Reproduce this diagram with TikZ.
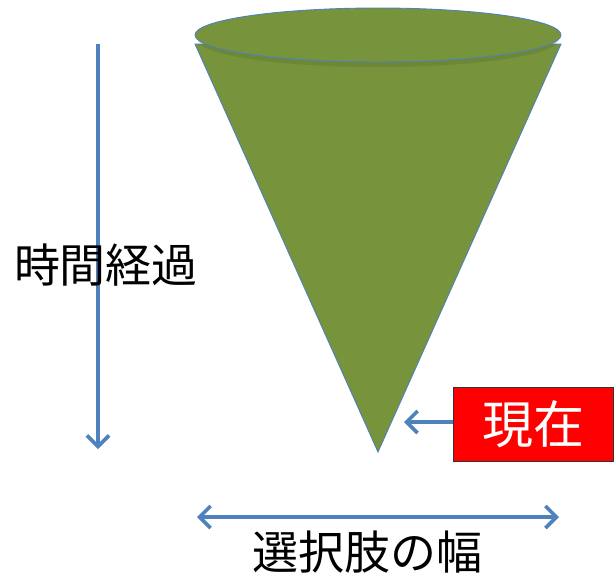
\documentclass[tikz,border=0pt]{standalone}
\usepackage{fontspec}
\setmainfont{Noto Sans CJK JP}
\usepackage{tikz}
\usetikzlibrary{positioning,arrows.meta,calc}
\definecolor{conegreen}{HTML}{77933C}
\definecolor{lineblue}{HTML}{4F81BD}
\definecolor{nowred}{HTML}{FF0000}
\tikzset{
x=1pt,y=-1pt,
conefill/.style={fill=conegreen,draw=lineblue,line width=0.9pt},
bluearrow/.style={draw=lineblue,line width=3.6pt,-{Straight Barb[length=11pt,width=22pt,line width=3.6pt]}},
bluearrows/.style={draw=lineblue,line width=3.6pt,{Straight Barb[length=11pt,width=22pt,line width=3.6pt]}-{Straight Barb[length=11pt,width=22pt,line width=3.6pt]}},
lbl/.style={font=\fontsize{46}{50}\selectfont,inner sep=0pt},
nowbox/.style={rectangle,fill=nowred,draw=black!80,line width=0.9pt,text=white,
  font=\fontsize{51}{54}\selectfont,minimum width=160pt,minimum height=74pt,inner sep=0pt},
}
\begin{document}
\begin{tikzpicture}
	\useasboundingbox (0,0) rectangle (614,574);

	% cone
	\coordinate (rimL) at (195,44);
	\coordinate (rimR) at (561,44);
	\coordinate (apex) at (378,452);
	\path[conefill] (rimL) -- (rimR) -- (apex) -- cycle;
	\fill[black,opacity=0.08] (378,40) ellipse [x radius=180pt,y radius=27pt];
	\path[conefill] (378,35) ellipse [x radius=183pt,y radius=27pt];

	% time axis
	\coordinate (tstart) at (98,44);
	\coordinate (tend) at (98,449);
	\draw[bluearrow] (tstart) -- (tend);
	\node[lbl] (time) at (106,265) {時間経過};

	% present
	\node[nowbox,anchor=north west] (now) at (453,387) {現在};
	\coordinate (nowtip) at (404,422);
	\draw[bluearrow] (now.west |- nowtip) -- (nowtip);

	% width of choices
	\coordinate (wL) at (197,517);
	\coordinate (wR) at (559,517);
	\draw[bluearrows] (wL) -- (wR);
	\node[lbl] (width) at (367,552) {選択肢の幅};
\end{tikzpicture}
\end{document}
